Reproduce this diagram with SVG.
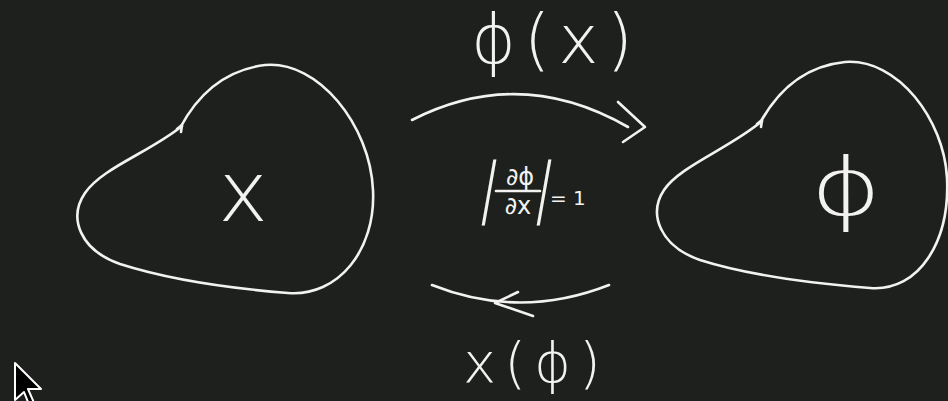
<svg xmlns="http://www.w3.org/2000/svg" width="948" height="401" viewBox="0 0 948 401">
<style>
.ink{fill:none;stroke:#f2f2f0;stroke-width:2.6;stroke-linecap:round;stroke-linejoin:round}
.t{fill:#f2f2f0;font-family:"DejaVu Sans","Liberation Sans",sans-serif;font-weight:300}
.f{fill:#f2f2f0;font-family:"DejaVu Sans","Liberation Sans",sans-serif}
</style>
<rect width="948" height="401" fill="#1d201c"/>
<g id="node-x">
<path class="ink" d="M180,128 C198,94 225,70 265,65 C318,60 370,125 373,190 C376,250 338,297 288,293 C238,289 170,280 120,264 C80,250 68,218 85,193 C102,168 150,152 182,126"/>
<path class="ink" d="M177,129 L182,125 L181,132"/>
<text class="t" x="243" y="221" font-size="84" text-anchor="middle">x</text>
</g>
<g id="node-phi">
<path class="ink" d="M760,123 C778,90 805,66 845,62 C898,58 944,120 947,178 C950,240 920,292 870,288 C820,284 750,276 700,260 C660,246 648,214 664,190 C680,166 730,148 762,121"/>
<path class="ink" d="M757,124 L762,120 L761,127"/>
<text class="t" x="846" y="215" font-size="80" text-anchor="middle" transform="translate(846,0) scale(1.35,1) translate(-846,0)">ϕ</text>
</g>
<g id="connectors">
<path class="ink" d="M412,120 Q520,65 628,127"/>
<path class="ink" d="M618,102 L645,127 L623,142"/>
<path class="ink" d="M432,285 Q520,320 609,285"/>
<path class="ink" d="M518,292 L495,303 L533,316"/>
</g>
<g id="label-top">
<text class="t" x="556" y="63" font-size="68" text-anchor="middle" letter-spacing="8">ϕ(x)</text>
</g>
<g id="label-bottom">
<text class="t" x="536" y="382" font-size="56" text-anchor="middle" letter-spacing="8">x(ϕ)</text>
</g>
<g id="formula">
<text class="t" x="486" y="210" font-size="66" text-anchor="middle" transform="skewX(-10) translate(37,0)">|</text>
<text class="f" x="520" y="185" font-size="24" text-anchor="middle">∂ϕ</text>
<line class="ink" x1="496" y1="191" x2="540" y2="191" stroke-width="2"/>
<text class="f" x="518" y="214" font-size="24" text-anchor="middle">∂x</text>
<text class="t" x="541" y="210" font-size="66" text-anchor="middle" transform="skewX(-10) translate(37,0)">|</text>
<text class="f" x="550" y="205" font-size="20">= 1</text>
</g>
<polygon points="15,363 15,400 24,392 30,407 35,405 28,389 41,389" fill="#000" stroke="#fff" stroke-width="2" stroke-linejoin="round"/>
</svg>
